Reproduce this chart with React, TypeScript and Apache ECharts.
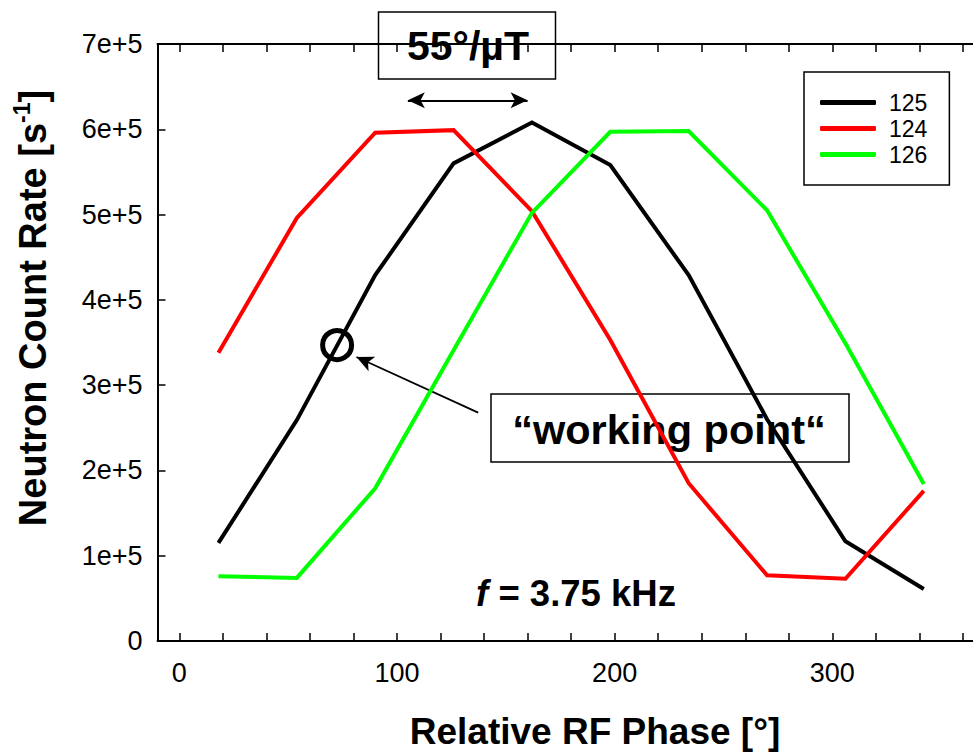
import React, { useEffect, useRef } from 'react';
import * as echarts from 'echarts';

const phases = [18, 54, 90, 126, 162, 198, 234, 270, 306, 342];
const rate125 = [115000, 259000, 429000, 560000, 608000, 558000, 429000, 260000, 117000, 61000];
const rate124 = [338000, 496000, 596000, 599000, 504000, 353000, 185000, 77000, 73000, 176000];
const rate126 = [76000, 74000, 179000, 341000, 502000, 597000, 598000, 505000, 349000, 184000];
const seriesNames = ['125', '124', '126'];
const seriesValues = [rate125, rate124, rate126];
const seriesColors = ['#000000', '#ff0000', '#00ff00'];
const workingPoint = [72.5, 347000];
const arrowTail = [137.3, 267700];
const arrowHead = [81.4, 333000];
const spanArrow = [[105, 634000], [160, 634000]];
const xMin = -10;
const xMax = 380;
const yMin = 0;
const yMax = 700000;
const yStep = 100000;

const FONT = '"Liberation Sans", Arial, Helvetica, sans-serif';
const tickRich = { t: { fontSize: 27, fontFamily: FONT, color: '#000', lineHeight: 30 } };

export default function App() {
  const ref = useRef<HTMLDivElement>(null);
  useEffect(() => {
    if (!ref.current) return;
    const chart = echarts.init(ref.current, null, { renderer: 'svg' });
    const xAxisBase = {
      type: 'value',
      min: xMin,
      max: xMax,
      splitNumber: 20,
      minInterval: 20,
      maxInterval: 20,
      splitLine: { show: false },
      axisLine: { show: true, onZero: false, lineStyle: { color: '#000', width: 2 } },
      axisTick: { show: true, inside: true, length: 8, lineStyle: { color: '#000', width: 1.5 } },
    };
    const option: any = {
      animation: false,
      backgroundColor: '#ffffff',
      grid: { left: 157.5, width: 849, top: 44, bottom: 111, containLabel: false, outerBoundsMode: 'none' },
      xAxis: [
        {
          ...xAxisBase,
          position: 'bottom',
          axisLabel: {
            show: true,
            margin: 17,
            color: '#000',
            fontSize: 27,
            fontFamily: FONT,
            rich: tickRich,
            formatter: (v: number) => (Math.round(v) % 100 === 0 ? `{t|${v}}` : ''),
          },
        },
        {
          ...xAxisBase,
          position: 'top',
          axisLabel: { show: false },
        },
      ],
      yAxis: {
        type: 'value',
        min: yMin,
        max: yMax,
        interval: yStep,
        splitLine: { show: false },
        axisLine: { show: true, onZero: false, lineStyle: { color: '#000', width: 2 } },
        axisTick: { show: true, inside: true, length: 8, lineStyle: { color: '#000', width: 1.5 } },
        axisLabel: {
          margin: 15,
          color: '#000',
          fontSize: 27,
          fontFamily: FONT,
          rich: tickRich,
          formatter: (v: number) => (v === 0 ? '{t|0}' : `{t|${Math.round(v / 100000)}e+5}`),
        },
      },
      legend: {
        data: seriesNames,
        orient: 'vertical',
        left: 804,
        top: 72,
        backgroundColor: '#fff',
        borderColor: '#000',
        borderWidth: 1.5,
        borderRadius: 0,
        padding: [19, 22, 19, 16],
        itemWidth: 56,
        itemHeight: 5,
        itemGap: 3,
        icon: 'roundRect',
        selectedMode: false,
        textStyle: { fontSize: 23, color: '#000', fontFamily: FONT, padding: [0, 0, 0, 8] },
      },
      series: [
        ...seriesNames.map((name, si) => ({
          name,
          type: 'line',
          data: phases.map((p, i) => [p, seriesValues[si][i]]),
          symbol: 'none',
          showSymbol: false,
          color: seriesColors[si],
          lineStyle: { color: seriesColors[si], width: 4, join: 'miter' },
          emphasis: { disabled: true },
          z: 3 + si,
        })),
        {
          name: 'working point',
          type: 'scatter',
          data: [workingPoint],
          symbol: 'circle',
          symbolSize: 29,
          itemStyle: { color: 'rgba(0,0,0,0)', borderColor: '#000', borderWidth: 5, opacity: 1 },
          emphasis: { disabled: true },
          silent: true,
          z: 10,
          markLine: {
            silent: true,
            animation: false,
            label: { show: false },
            emphasis: { disabled: true },
            lineStyle: { color: '#000', width: 1.8, type: 'solid', opacity: 1 },
            data: [
              [
                { coord: arrowTail, symbol: 'none' },
                { coord: arrowHead, symbol: 'arrow', symbolSize: [12, 17] },
              ],
              [
                { coord: spanArrow[0], symbol: 'arrow', symbolSize: [12, 17] },
                { coord: spanArrow[1], symbol: 'arrow', symbolSize: [12, 17] },
              ],
            ],
          },
        },
      ],
      graphic: [
        {
          type: 'group',
          z: 100,
          children: [
            {
              type: 'rect',
              shape: { x: 378.5, y: 12, width: 177, height: 67 },
              style: { fill: '#fff', stroke: '#000', lineWidth: 1.5 },
            },
            {
              type: 'text',
              x: 468,
              y: 46,
              style: {
                text: '55°/µT',
                fontSize: 41,
                fontWeight: 'bold',
                fontFamily: FONT,
                fill: '#000',
                align: 'center',
                verticalAlign: 'middle',
              },
            },
            {
              type: 'rect',
              shape: { x: 491, y: 394, width: 358, height: 68 },
              style: { fill: '#fff', stroke: '#000', lineWidth: 1.5 },
            },
            {
              type: 'text',
              x: 669,
              y: 429,
              style: {
                text: '“working point“',
                fontSize: 41.5,
                fontWeight: 'bold',
                fontFamily: FONT,
                fill: '#000',
                align: 'center',
                verticalAlign: 'middle',
              },
            },
            {
              type: 'text',
              x: 576,
              y: 593,
              style: {
                text: '{it|f} = 3.75 kHz',
                fontSize: 36.5,
                fontWeight: 'bold',
                fontFamily: FONT,
                fill: '#000',
                align: 'center',
                verticalAlign: 'middle',
                rich: {
                  it: { fontSize: 36.5, fontWeight: 'bold', fontStyle: 'italic', fontFamily: FONT, fill: '#000' },
                },
              },
            },
            {
              type: 'text',
              x: 595,
              y: 731,
              style: {
                text: 'Relative RF Phase [°]',
                fontSize: 37,
                fontWeight: 'bold',
                fontFamily: FONT,
                fill: '#000',
                align: 'center',
                verticalAlign: 'middle',
              },
            },
            {
              type: 'text',
              x: 31,
              y: 308,
              rotation: Math.PI / 2,
              style: {
                text: '{m|Neutron Count Rate [s}{s|-1}{m|]}',
                fontSize: 38,
                fontWeight: 'bold',
                fontFamily: FONT,
                fill: '#000',
                align: 'center',
                verticalAlign: 'middle',
                rich: {
                  m: { fontSize: 38, fontWeight: 'bold', fontFamily: FONT, fill: '#000', lineHeight: 42, verticalAlign: 'bottom' },
                  s: { fontSize: 23, fontWeight: 'bold', fontFamily: FONT, fill: '#000', lineHeight: 20, verticalAlign: 'top' },
                },
              },
            },
          ],
        },
      ],
    };
    chart.setOption(option);
    return () => chart.dispose();
  }, []);
  return (
    <div
      ref={ref}
      style={{ position: 'absolute', left: 0, top: 0, width: 973, height: 752, background: '#fff' }}
    />
  );
}
